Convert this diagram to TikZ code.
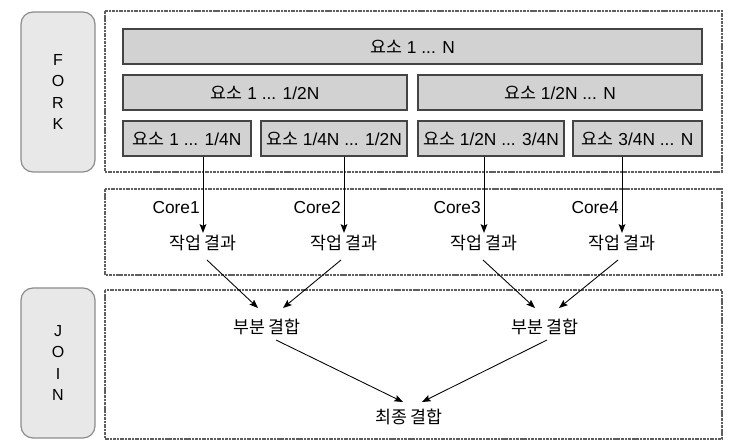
\documentclass[tikz,border=0pt]{standalone}
\usepackage{fontspec}
\setmainfont{Liberation Sans}
\newfontfamily\krfont{Noto Sans CJK KR}
\newcommand{\ko}[1]{{\krfont #1}}
\usetikzlibrary{arrows.meta,calc}
\definecolor{elemfill}{HTML}{D2D2D2}
\definecolor{elemline}{HTML}{444444}
\definecolor{sidefill}{HTML}{E8E8E8}
\definecolor{sideline}{HTML}{8C8C8C}
\definecolor{frameline}{HTML}{5E5E5E}

\tikzset{
  elem/.style={draw=elemline,fill=elemfill,line width=0.9pt,minimum height=26.25pt,inner sep=0pt,font=\fontsize{13}{14}\selectfont},
  side/.style={draw=sideline,fill=sidefill,line width=0.9pt,rounded corners=9pt,minimum width=55.5pt,align=center,font=\fontsize{12}{16}\selectfont},
  frame/.style={draw=frameline,line width=1.8pt,dash pattern=on 2.6pt off 0.7pt on 1.6pt off 0.7pt},
  res/.style={inner sep=1.5pt,font=\fontsize{13}{14}\selectfont},
  flow/.style={-{Stealth[length=6.5pt,width=5pt,inset=1.2pt]},line width=0.65pt}
}

\begin{document}
\begin{tikzpicture}[x=0.75pt,y=0.75pt,yscale=-1,xscale=1]
                \path[use as bounding box] (0,0) rectangle (735,445);

                % Side Boxes
                \node[side,minimum height=120pt] (fork) at (58,92) {F\\O\\R\\K};
                \node[side,minimum height=112.5pt] (join) at (58,363) {J\\O\\I\\N};

                % Dashed Frames
                \draw[frame] (105,11) rectangle (722,172);
                \draw[frame] (105,189) rectangle (722,275);
                \draw[frame] (105,290) rectangle (722,439);

                % Element Boxes
                \node[elem,minimum width=434.25pt] (all) at (412.5,46.5) {\ko{요소} 1 ... N};
                \node[elem,minimum width=213pt] (half1) at (265,92.5) {\ko{요소} 1 ... 1/2N};
                \node[elem,minimum width=213pt] (half2) at (560,92.5) {\ko{요소} 1/2N ... N};
                \node[elem,minimum width=96pt] (q1) at (187,138.5) {\ko{요소} 1 ... 1/4N};
                \node[elem,minimum width=109.5pt] (q2) at (334,138.5) {\ko{요소} 1/4N ... 1/2N};
                \node[elem,minimum width=109.5pt] (q3) at (491,138.5) {\ko{요소} 1/2N ... 3/4N};
                \node[elem,minimum width=96.75pt] (q4) at (637.5,138.5) {\ko{요소} 3/4N ... N};

                % Text Node
                \node[res] (r1) at (203,243) {\ko{작업 결과}};
                \node[res] (r2) at (344,243) {\ko{작업 결과}};
                \node[res] (r3) at (484,243) {\ko{작업 결과}};
                \node[res] (r4) at (622,243) {\ko{작업 결과}};
                % Text Node
                \node[res,anchor=east] (c1) at ($(r1.center)+(-1,-35)$) {Core1};
                \node[res,anchor=east] (c2) at ($(r2.center)+(-1,-35)$) {Core2};
                \node[res,anchor=east] (c3) at ($(r3.center)+(-1,-35)$) {Core3};
                \node[res,anchor=east] (c4) at ($(r4.center)+(-1,-35)$) {Core4};
                % Text Node
                \node[res] (p1) at (267,327) {\ko{부분 결합}};
                \node[res] (p2) at (545,327) {\ko{부분 결합}};
                \node[res] (fin) at (409,417) {\ko{최종 결합}};

                %Straight Lines
                \draw[flow] (q1.south -| r1.north) -- (r1.north);
                \draw[flow] (q2.south -| r2.north) -- (r2.north);
                \draw[flow] (q3.south -| r3.north) -- (r3.north);
                \draw[flow] (q4.south -| r4.north) -- (r4.north);
                %Straight Lines
                \draw[flow] ($(r1.center)+(4,17)$) -- ($(p1.center)+(-9,-19)$);
                \draw[flow] ($(r2.center)+(-3,17)$) -- ($(p1.center)+(16,-19)$);
                \draw[flow] ($(r3.center)+(-1,17)$) -- ($(p2.center)+(-10,-19)$);
                \draw[flow] ($(r4.center)+(-4,17)$) -- ($(p2.center)+(14,-19)$);
                %Straight Lines
                \draw[flow] ($(p1.center)+(9,13)$) -- ($(fin.center)+(-6,-15)$);
                \draw[flow] ($(p2.center)+(2,13)$) -- ($(fin.center)+(13,-15)$);

            \end{tikzpicture}
\end{document}
